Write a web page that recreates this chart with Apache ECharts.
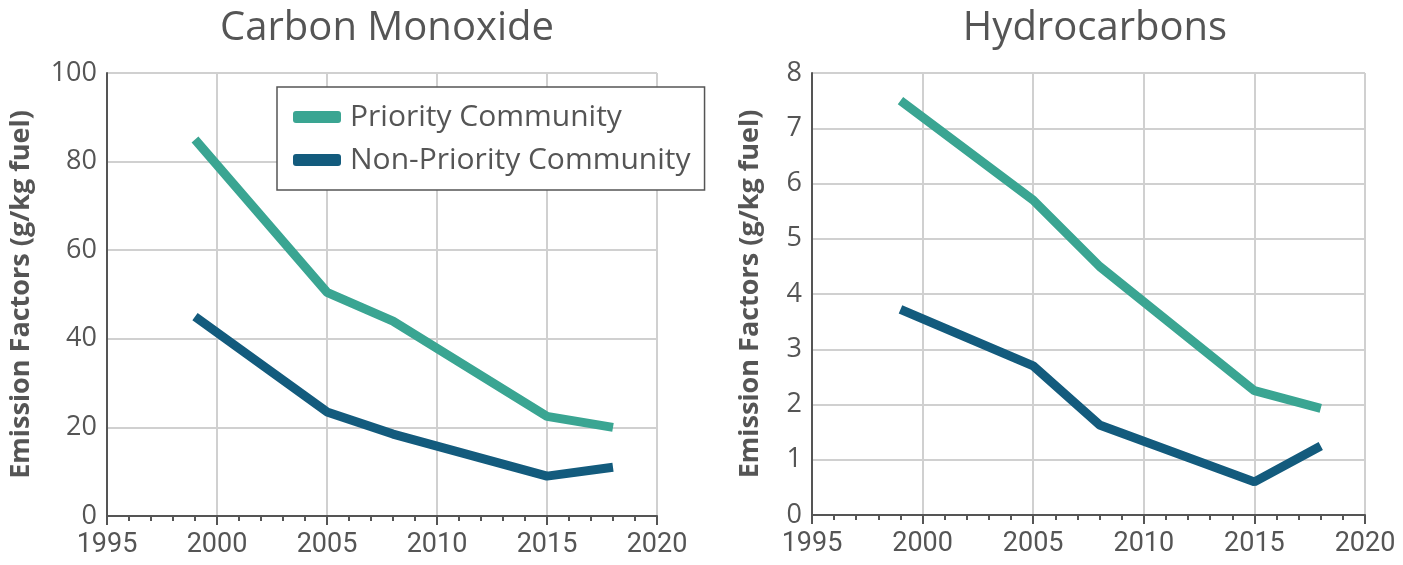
<!DOCTYPE html>
<html>
<head>
<meta charset="utf-8">
<script src="https://cdn.jsdelivr.net/npm/echarts@6/dist/echarts.min.js"></script>
<style>
  html, body { margin: 0; padding: 0; background: #fff; }
  #chart { width: 1403px; height: 565px; }
</style>
</head>
<body>
<div id="chart"></div>
<script>
(function(){

    // data
    let years = [1999, 2005, 2008, 2015, 2018];
    let coPriority = [85, 50.5, 44, 22.5, 20];
    let coNonPriority = [45, 23.5, 18.5, 9, 11];
    let hcPriority = [7.5, 5.7, 4.5, 2.25, 1.93];
    let hcNonPriority = [3.72, 2.7, 1.63, 0.6, 1.25];

    let seriesNames = ['Priority Community', 'Non-Priority Community'];
    let titles = ['Carbon Monoxide', 'Hydrocarbons'];
    let yName = 'Emission Factors (g/kg fuel)';

    let cPriority = '#3aa592';
    let cNon = '#135b7d';
    let textColor = '#555';
    let narrowFont = 'Roboto, sans-serif';
    let mainFont = '"Open Sans", "Noto Sans", sans-serif';

    let toPairs = function(vals){
        return years.map((y, i) => [y, vals[i]]);
    };

    let xAxisFor = function(idx){
        return {
            type: 'value',
            gridIndex: idx,
            min: 1995, max: 2020, interval: 5,
            axisLine: { show: true, onZero: false, lineStyle: { color: '#555', width: 2 } },
            axisTick: { show: true, length: 9, lineStyle: { color: '#555', width: 2 } },
            minorTick: { show: true, splitNumber: 5, length: 5, lineStyle: { color: '#555', width: 2 } },
            splitLine: { show: true, lineStyle: { color: '#d0d0d0', width: 2 } },
            axisLabel: {
                color: textColor, fontSize: 27, fontFamily: narrowFont, margin: 16,
                formatter: function(v){ return String(v); }
            }
        };
    };

    let yAxisFor = function(idx, max, interval, gap){
        return {
            type: 'value',
            gridIndex: idx,
            min: 0, max: max, interval: interval,
            name: yName,
            nameLocation: 'middle',
            nameGap: gap,
            nameTextStyle: { color: textColor, fontSize: 27, fontWeight: 'bold', fontFamily: mainFont },
            axisLine: { show: true, lineStyle: { color: '#555', width: 2 } },
            axisTick: { show: false },
            splitLine: { show: true, lineStyle: { color: '#d0d0d0', width: 2 } },
            axisLabel: { color: textColor, fontSize: 27, fontFamily: mainFont, margin: 10 }
        };
    };

    let lineSeries = function(name, data, color, idx){
        return {
            name: name,
            type: 'line',
            xAxisIndex: idx,
            yAxisIndex: idx,
            data: toPairs(data),
            showSymbol: false,
            lineStyle: { color: color, width: 9 },
            itemStyle: { color: color },
            z: 5
        };
    };

    let opts = {
        animation: false,
        title: [
            { text: titles[0], left: 382, top: 4, textAlign: 'center',
              textStyle: { color: textColor, fontSize: 40, fontWeight: 'normal', fontFamily: mainFont } },
            { text: titles[1], left: 1090, top: 4, textAlign: 'center',
              textStyle: { color: textColor, fontSize: 40, fontWeight: 'normal', fontFamily: mainFont } }
        ],
        legend: {
            data: seriesNames,
            orient: 'vertical',
            left: 277, top: 87,
            padding: [15, 14, 15, 16],
            itemGap: 13,
            itemWidth: 48,
            itemHeight: 12,
            icon: 'roundRect',
            borderColor: '#555',
            borderWidth: 1.5,
            backgroundColor: '#fff',
            textStyle: { color: textColor, fontSize: 30, fontFamily: mainFont, padding: [0, 0, 0, 4] }
        },
        grid: [
            { left: 107, top: 73, width: 550, height: 443 },
            { left: 812, top: 73, width: 553, height: 442 }
        ],
        xAxis: [xAxisFor(0), xAxisFor(1)],
        yAxis: [yAxisFor(0, 100, 20, 72), yAxisFor(1, 8, 1, 48)],
        series: [
            lineSeries(seriesNames[0], coPriority, cPriority, 0),
            lineSeries(seriesNames[1], coNonPriority, cNon, 0),
            lineSeries(seriesNames[0], hcPriority, cPriority, 1),
            lineSeries(seriesNames[1], hcNonPriority, cNon, 1)
        ]
    };

    let chart = echarts.init(document.getElementById('chart'));
    chart.setOption(opts);

    window.addEventListener('resize', function(){
        chart.resize();
    });
})();
</script>
</body>
</html>
